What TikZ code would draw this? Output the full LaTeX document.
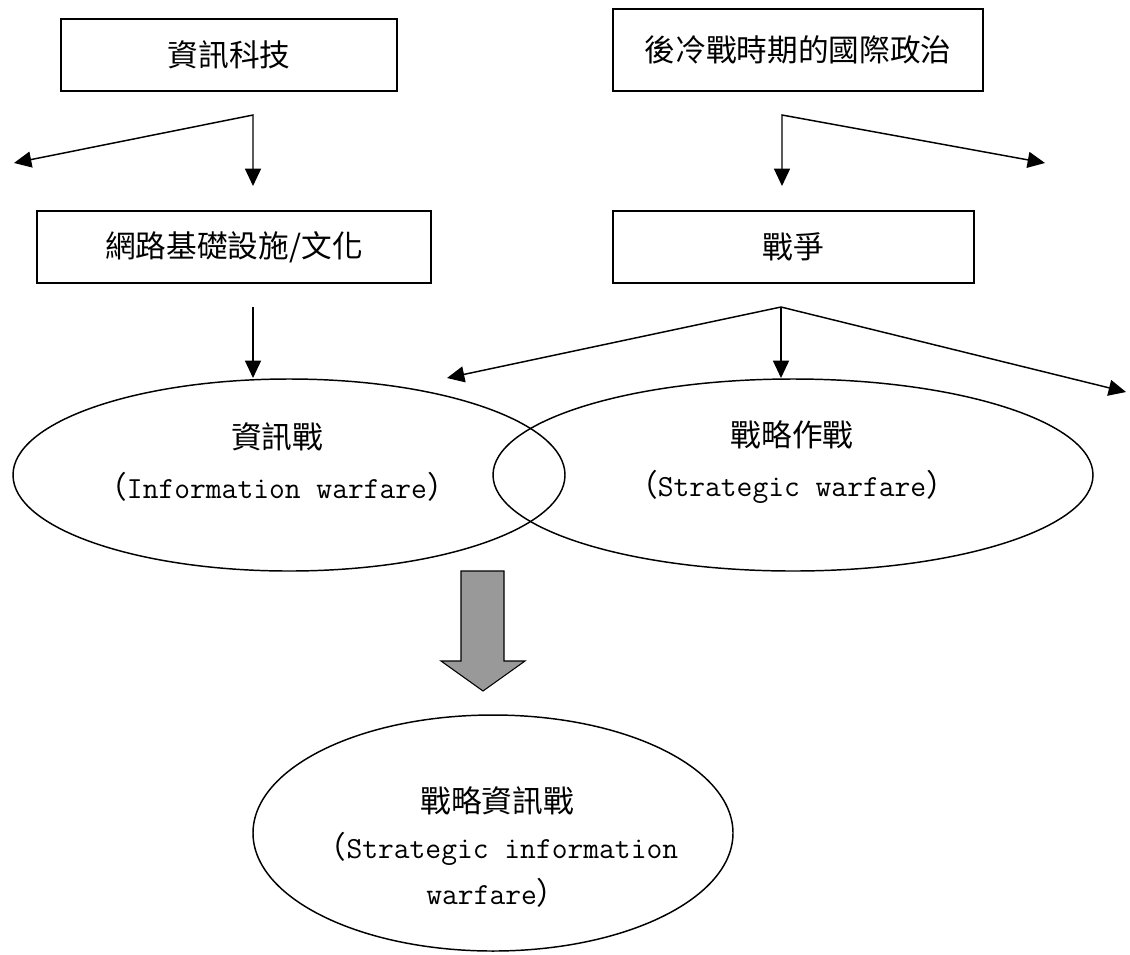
\documentclass[tikz,border=0pt]{standalone}
\usepackage{fontspec}
\setmainfont{Noto Sans CJK TC}
\setmonofont{Latin Modern Mono}
\usetikzlibrary{arrows.meta}
\begin{document}
\begin{tikzpicture}[>={Triangle[length=13pt,width=12pt]}, x=0.75pt, y=-0.75pt,
  box/.style={draw, line width=1.3pt, inner sep=0pt, font=\fontsize{23}{27}\selectfont},
  lbl/.style={align=center, font=\fontsize{23}{37}\selectfont},
  arr/.style={line width=1.1pt}]
\useasboundingbox (0,0) rectangle (1130,954);
% boxes
\node[box, minimum width=252pt, minimum height=54pt] (tech) at (229,55) {資訊科技};
\node[box, minimum width=295.5pt, minimum height=54pt] (infra) at (234,247) {網路基礎設施/文化};
\node[box, minimum width=277.5pt, minimum height=61.5pt] (post) at (798,50) {後冷戰時期的國際政治};
\node[box, minimum width=270.75pt, minimum height=54pt] (war) at (793.5,247) {戰爭};
% branch points and free ends
\coordinate (jt) at (253,115);
\coordinate (jtl) at (14,163);
\coordinate (jtd) at (253,186);
\coordinate (jp) at (782,115);
\coordinate (jpd) at (782,186);
\coordinate (jpr) at (1045,163);
\coordinate (ji) at (253,307);
\coordinate (jid) at (253,378);
\coordinate (jw) at (781,307);
\coordinate (jwl) at (447,378);
\coordinate (jwd) at (781,378);
\coordinate (jwr) at (1126,392);
\draw[arr, <->] (jtl) -- (jt) -- (jtd);
\draw[arr, <->] (jpd) -- (jp) -- (jpr);
\draw[arr, ->] (ji) -- (jid);
\draw[arr, <->] (jwl) -- (jw) -- (jwr);
\draw[arr, ->] (jw) -- (jwd);
% ellipses
\draw[arr] (289,475) ellipse [x radius=207pt, y radius=72pt];
\draw[arr] (793,475) ellipse [x radius=225pt, y radius=72pt];
\node[lbl] (iw) at (277,462) {資訊戰\\（{\ttfamily Information warfare}）};
\node[lbl] (sw) at (792,462) {戰略作戰\\（{\ttfamily Strategic warfare}）};
% block arrow
\draw[fill=black!40, line width=0.8pt] (461,571) -- (504,571) -- (504,661) -- (525,661)
  -- (483,691) -- (441,661) -- (461,661) -- cycle;
\draw[arr] (493,833) ellipse [x radius=180pt, y radius=88.5pt];
\node[lbl, font=\fontsize{23}{34.5}\selectfont] (siw) at (497,847)
  {戰略資訊戰\\（{\ttfamily Strategic information}\\{\ttfamily warfare}）};
\end{tikzpicture}
\end{document}
